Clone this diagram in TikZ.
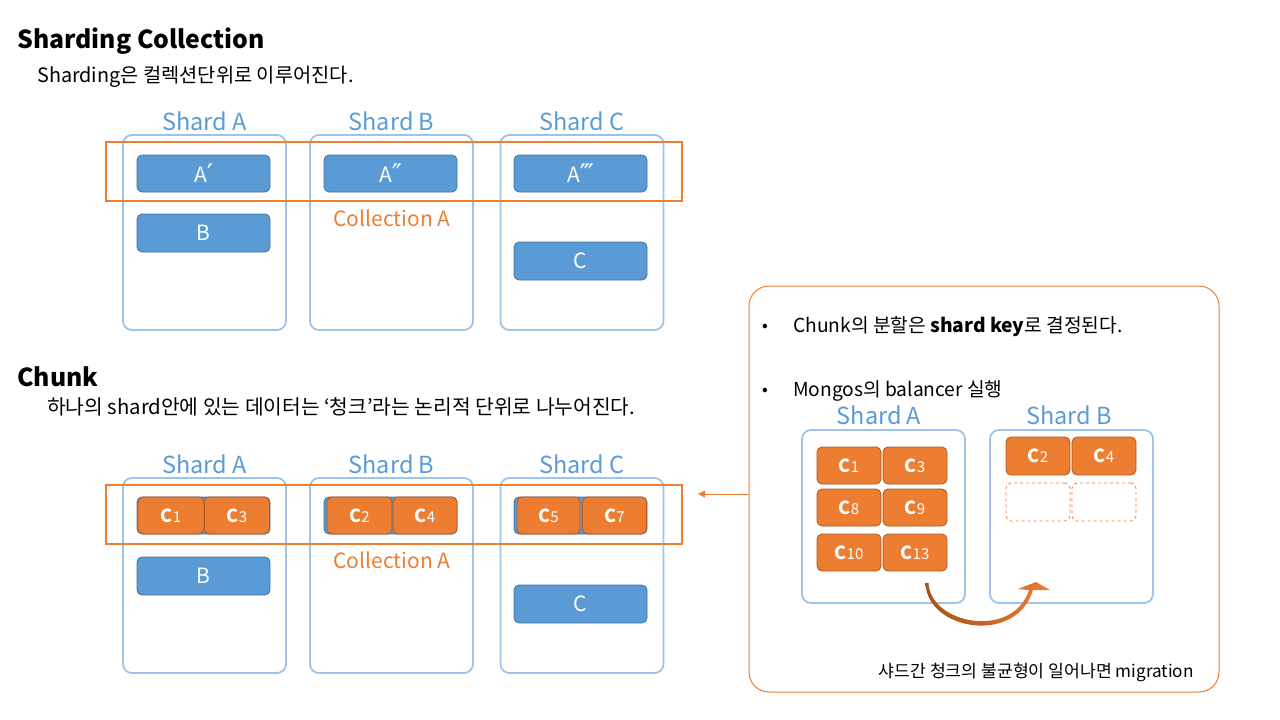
\documentclass[tikz,border=0pt]{standalone}
\usepackage{fontspec}
\setmainfont{Noto Sans CJK KR}
\newfontfamily\dejavu{DejaVu Sans}
\usetikzlibrary{arrows.meta,calc}
\definecolor{bfill}{HTML}{5B9BD5}
\definecolor{bdark}{HTML}{41719C}
\definecolor{shline}{HTML}{9DC3E6}
\definecolor{org}{HTML}{ED7D31}
\definecolor{odark}{HTML}{AE5A21}
\definecolor{obrown}{HTML}{A8501A}
\newcommand\ck[1]{{\fontsize{18}{18}\selectfont\bfseries C}{\fontsize{15}{15}\selectfont #1}}
\newcommand\fs[1]{\fontsize{#1}{#1}\selectfont}
\newcommand\prm[1]{\raisebox{-1pt}{\dejavu\fs{27}#1}}
\tikzset{
  shardbox/.style={draw=shline, line width=1.8pt, rounded corners=9pt, minimum width=163pt},
  shardlbl/.style={text=bfill, font=\fs{23.5}},
  bluebox/.style={fill=bfill, draw=bdark, line width=0.8pt, rounded corners=5pt, text=white, font=\fs{21}, minimum width=133pt, minimum height=37pt, inner sep=0pt},
  chunkbox/.style={fill=org, draw=odark, line width=0.8pt, rounded corners=5pt, text=white, minimum height=37pt, inner sep=0pt},
  ghost/.style={draw=org, dashed, line width=0.8pt, rounded corners=5pt, minimum height=38pt, minimum width=64pt},
  collbox/.style={draw=org, line width=2pt, minimum width=576pt, minimum height=59pt},
  colllbl/.style={text=org, font=\fs{21}},
  txt/.style={inner sep=0pt, anchor=base west},
}
\begin{document}
\begin{tikzpicture}[x=1pt,y=-1pt]
\useasboundingbox (0,0) rectangle (1280,720);
% titles
\node[txt, font=\fs{24.8}\bfseries] (t1) at (17,48) {Sharding Collection};
\node[txt, font=\fs{19.8}] (s1) at (37,82) {Sharding은 컬렉션단위로 이루어진다.};
\node[txt, font=\fs{24.8}\bfseries] (t2) at (17,386) {Chunk};
\node[txt, font=\fs{20.3}] (s2) at (47,414) {하나의 shard안에 있는 데이터는 ‘청크’라는 논리적 단위로 나누어진다.};

% ---------- section 1 ----------
\node[shardbox, minimum height=195pt] (sa1) at (204.5,232.5) {};
\node[shardbox, minimum height=195pt] (sb1) at (391.5,232.5) {};
\node[shardbox, minimum height=195pt] (sc1) at (582,232.5) {};
\node[shardlbl] (la1) at (204.5,121) {Shard A};
\node[shardlbl] (lb1) at (391.5,121) {Shard B};
\node[shardlbl] (lc1) at (582,121) {Shard C};
\node[bluebox] (ap1) at (203.5,173.5) {A\prm{′}};
\node[bluebox] (ap2) at (390.5,173.5) {A\prm{″}};
\node[bluebox] (ap3) at (580.5,173.5) {A\prm{‴}};
\node[bluebox, minimum height=38pt] (b1) at (203.5,233) {B};
\node[bluebox, minimum height=38pt] (c1) at (580.5,261) {C};
\node[collbox] (colA1) at (394,171.5) {};
\node[colllbl] (cl1) at (392,218) {Collection A};

% ---------- section 2 ----------
\node[shardbox, minimum height=195pt] (sa2) at (204.5,575.5) {};
\node[shardbox, minimum height=195pt] (sb2) at (391.5,575.5) {};
\node[shardbox, minimum height=195pt] (sc2) at (582,575.5) {};
\node[shardlbl] (la2) at (204.5,464) {Shard A};
\node[shardlbl] (lb2) at (391.5,464) {Shard B};
\node[shardlbl] (lc2) at (582,464) {Shard C};
\node[bluebox] (bar1) at (203.5,515.5) {};
\node[bluebox] (bar2) at (390.5,515.5) {};
\node[bluebox] (bar3) at (580.5,515.5) {};
\node[chunkbox, minimum width=66pt] (k1) at (171,515.5) {\ck{1}};
\node[chunkbox, minimum width=65pt] (k3) at (237,515.5) {\ck{3}};
\node[chunkbox, minimum width=65pt] (k2) at (359.5,515.5) {\ck{2}};
\node[chunkbox, minimum width=64pt] (k4) at (425,515.5) {\ck{4}};
\node[chunkbox, minimum width=63pt] (k5) at (548.5,515.5) {\ck{5}};
\node[chunkbox, minimum width=64pt] (k7) at (614.5,515.5) {\ck{7}};
\node[bluebox, minimum height=38pt] (b2) at (203.5,576) {B};
\node[bluebox, minimum height=38pt] (c2) at (580.5,604) {C};
\node[collbox] (colA2) at (394,514.5) {};
\node[colllbl] (cl2) at (392,560) {Collection A};

% ---------- right panel ----------
\node[draw=org, line width=1pt, rounded corners=20pt, minimum width=470pt, minimum height=406pt] (panel) at (984,489) {};
\draw[org, line width=1pt, -{Triangle[length=7pt,width=7pt]}] ([yshift=-5pt]panel.west) -- ([xshift=15pt,yshift=20.5pt]colA2.east);

\node[txt, font=\fs{17}] (bu1) at (762,331) {•};
\node[txt, font=\fs{19.2}] (p1) at (793,332) {Chunk의 분할은 \textbf{shard key}로 결정된다.};
\node[txt, font=\fs{17}] (bu2) at (762,395) {•};
\node[txt, font=\fs{19.2}] (p2) at (793,396) {Mongos의 balancer 실행};

\node[shardbox, minimum height=173pt] (ra) at (883.5,516.5) {};
\node[shardbox, minimum height=173pt] (rb) at (1071.5,516.5) {};
\node[shardlbl] (lra) at (879,415) {Shard A};
\node[shardlbl] (lrb) at (1069,415) {Shard B};
\node[chunkbox, minimum width=64pt] (r1) at (849,465.5) {\ck{1}};
\node[chunkbox, minimum width=64pt] (r3) at (915,465.5) {\ck{3}};
\node[chunkbox, minimum width=64pt] (r8) at (849,507.5) {\ck{8}};
\node[chunkbox, minimum width=64pt] (r9) at (915,507.5) {\ck{9}};
\node[chunkbox, minimum width=64pt] (r10) at (849,552.5) {\ck{10}};
\node[chunkbox, minimum width=64pt] (r13) at (915,552.5) {\ck{13}};
\node[chunkbox, minimum width=64pt, minimum height=38pt] (r2) at (1038,456) {\ck{2}};
\node[chunkbox, minimum width=64pt, minimum height=38pt] (r4) at (1104,456) {\ck{4}};
\node[ghost] (g1) at (1038,502) {};
\node[ghost] (g2) at (1104,502) {};

% migration arrow
\shade[left color=obrown, right color=org]
  (925.5,583) .. controls (926.5,630) and (1016,646) .. (1033,590)
  -- (1050,590) -- (1036,582) -- (1018,589) -- (1029,590)
  .. controls (1013,640) and (930,624) .. (928.5,583) -- cycle;

\node[inner sep=0pt, anchor=base east, font=\fs{17.2}] (mig) at (1194,677) {샤드간 청크의 불균형이 일어나면 migration};
\end{tikzpicture}
\end{document}
